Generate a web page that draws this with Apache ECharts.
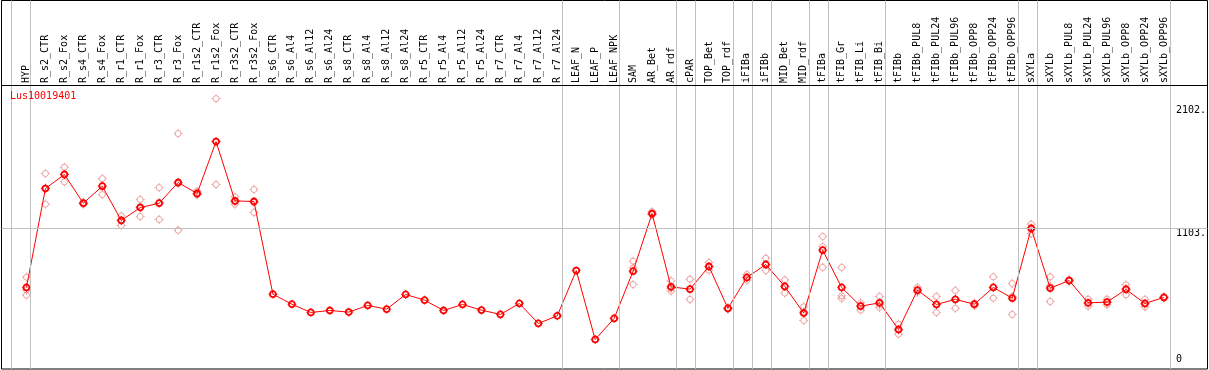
<!DOCTYPE html>
<html><head><meta charset="utf-8">
<script src="https://cdn.jsdelivr.net/npm/echarts@6/dist/echarts.min.js"></script>
<style>html,body{margin:0;padding:0;background:#fff}#c{width:1209px;height:370px}</style>
</head><body><div id="c"></div>
<script>
const categories = ['HYP','R_s2_CTR','R_s2_Fox','R_s4_CTR','R_s4_Fox','R_r1_CTR','R_r1_Fox','R_r3_CTR','R_r3_Fox','R_r1s2_CTR','R_r1s2_Fox','R_r3s2_CTR','R_r3s2_Fox','R_s6_CTR','R_s6_Al4','R_s6_Al12','R_s6_Al24','R_s8_CTR','R_s8_Al4','R_s8_Al12','R_s8_Al24','R_r5_CTR','R_r5_Al4','R_r5_Al12','R_r5_Al24','R_r7_CTR','R_r7_Al4','R_r7_Al12','R_r7_Al24','LEAF_N','LEAF_P','LEAF_NPK','SAM','AR_Bet','AR_rdf','cPAR','TOP_Bet','TOP_rdf','iFIBa','iFIBb','MID_Bet','MID_rdf','tFIBa','tFIB_Gr','tFIB_Li','tFIB_Bi','tFIBb','tFIBb_PUL8','tFIBb_PUL24','tFIBb_PUL96','tFIBb_OPP8','tFIBb_OPP24','tFIBb_OPP96','sXYLa','sXYLb','sXYLb_PUL8','sXYLb_PUL24','sXYLb_PUL96','sXYLb_OPP8','sXYLb_OPP24','sXYLb_OPP96'];
const meanValues = [625,1427,1541,1308,1446,1168,1273,1308,1476,1387,1808,1327,1322,570,489,422,438,425,479,449,568,522,438,487,441,406,495,333,395,762,203,374,757,1224,630,611,795,455,706,811,633,417,927,625,473,500,284,603,487,528,489,625,538,1103,619,681,500,506,609,495,544];
const rep1 = [708,1549,1600,1316,1508,1205,1338,1435,1873,1405,2156,1359,1419,null,null,null,null,null,null,null,null,null,null,null,null,null,null,null,null,null,null,null,838,1240,678,692,827,462,730,862,686,468,1038,787,500,552,327,625,552,600,497,711,657,1138,711,688,530,530,646,528,550];
const rep2 = [562,1300,1481,1300,1378,1127,1200,1176,1089,1375,1460,1300,1233,null,null,null,null,null,null,null,null,null,null,null,null,null,null,null,null,null,null,null,649,1215,595,528,765,450,684,762,579,357,787,536,441,463,246,587,422,455,478,538,406,1062,511,676,473,484,565,468,540];
const rep3 = [605,1432,1542,1308,1452,1172,1281,1313,1466,1381,1808,1322,1314,null,null,null,null,null,null,null,null,null,null,null,null,null,null,null,null,null,null,null,784,1217,617,613,793,453,704,809,634,426,956,557,478,485,280,597,487,529,492,626,551,1109,635,679,497,504,616,489,542];
const yTickValues = [1103, 2102];
const yTickLabels = ['1103.', '2102.'];
const yZeroValues = [0];
const yZeroLabels = ['0'];
const gridLineValue = 1103;
const groupEnds = [-1,0,28,31,34,35,37,38,39,41,42,45,52,53,60];
const titleText = 'Lus10019401';

// layout
const Y0 = 364.5, K = 0.1233, STEP = 19, X0 = 26;
const FONT = 'DejaVu Sans Mono';
const g0 = {left: X0 + 0.5 - STEP/2, top: 85, width: STEP*categories.length, height: Y0 - 85};
const g1 = {left: 1.5, top: 0.5, width: 1206, height: 368.5};
const tickSym = 'path://M4.5,0 L4.5,1.5 M4.5,7.5 L4.5,9 M0,4.5 L1.5,4.5 M7.5,4.5 L9,4.5';
const REP_COLOR = '#e88c8c', MEAN_COLOR = '#ff0000';

function repData(arr){ const o=[]; arr.forEach((v,i)=>{ if(v!=null) o.push([i,v]); }); return o; }
function meanData(){ return meanValues.map((v,i)=>[i,v]); }

const sepLines = groupEnds.map(i => ({xAxis: i + 4.5/STEP}));

function ringSeries(data, color, bw, z){
  return {type: 'scatter', xAxisIndex: 0, yAxisIndex: 0, data, symbol: 'circle', symbolSize: 6, silent: true, z,
    itemStyle: {color: 'rgba(0,0,0,0)', borderColor: color, borderWidth: bw}};
}
function tickSeries(data, color, z){
  return {type: 'scatter', xAxisIndex: 0, yAxisIndex: 0, data, symbol: tickSym, symbolSize: 9, silent: true, z,
    itemStyle: {color: 'rgba(0,0,0,0)', borderColor: color, borderWidth: 1}};
}

const repSeries = [];
[rep1, rep2, rep3].forEach(r => { repSeries.push(ringSeries(repData(r), REP_COLOR, 1, 2)); repSeries.push(tickSeries(repData(r), REP_COLOR, 2)); });

const chart = echarts.init(document.getElementById('c'), null, {renderer:'canvas'});
chart.setOption({
  animation: false,
  backgroundColor: '#fff',
  title: {text: titleText, left: 10, top: 91, padding: 0,
    textStyle: {color: '#ff0000', fontFamily: FONT, fontSize: 10, fontWeight: 'normal'}},
  grid: [
    Object.assign({containLabel: false}, g0),
    Object.assign({show: true, borderColor: '#000', borderWidth: 1, backgroundColor: 'transparent', containLabel: false}, g1)
  ],
  xAxis: [
    {type: 'category', gridIndex: 0, data: categories, position: 'top', boundaryGap: true,
      axisLine: {show: false}, axisTick: {show: false}, splitLine: {show: false},
      axisLabel: {interval: 0, rotate: 90, margin: 2, color: '#000', fontFamily: FONT, fontSize: 10}},
    {type: 'value', gridIndex: 1, show: false, min: (g1.left - X0)/STEP, max: (g1.left + g1.width - X0)/STEP, splitLine: {show: false}}
  ],
  yAxis: [
    {type: 'value', gridIndex: 0, position: 'right', min: 0, max: (Y0 - 85)/K,
      axisLine: {show: false}, axisTick: {show: false}, splitLine: {show: false},
      axisLabel: {customValues: yTickValues, margin: 2.5, verticalAlign: 'top', color: '#000', fontFamily: FONT, fontSize: 10,
        formatter: v => yTickLabels[yTickValues.indexOf(v)] ?? ''}},
    {type: 'value', gridIndex: 0, position: 'right', min: 0, max: (Y0 - 85)/K,
      axisLine: {show: false}, axisTick: {show: false}, splitLine: {show: false},
      axisLabel: {customValues: yZeroValues, margin: 2.5, verticalAlign: 'bottom', color: '#000', fontFamily: FONT, fontSize: 10,
        formatter: v => yZeroLabels[yZeroValues.indexOf(v)] ?? ''}},
    {type: 'value', gridIndex: 1, show: false, min: (Y0 - 369)/K, max: (Y0 - 0.5)/K, splitLine: {show: false}}
  ],
  series: [
    {type: 'line', xAxisIndex: 1, yAxisIndex: 2, data: [[0, -30]], showSymbol: false, symbol: 'none',
      lineStyle: {opacity: 0}, silent: true, z: 1,
      markLine: {silent: true, symbol: 'none', label: {show: false}, animation: false,
        data: [
          ...sepLines.map(d => Object.assign({lineStyle: {color: '#c0c0c0', width: 1, type: 'solid'}}, d)),
          {yAxis: gridLineValue, lineStyle: {color: '#c0c0c0', width: 1, type: 'solid'}},
          {yAxis: (Y0 - 85.5)/K, lineStyle: {color: '#000', width: 1, type: 'solid'}}
        ]}},
    ...repSeries,
    {type: 'line', xAxisIndex: 0, yAxisIndex: 0, data: meanData(), symbol: 'circle', symbolSize: 6, showAllSymbol: true,
      silent: true, z: 3,
      lineStyle: {color: MEAN_COLOR, width: 1},
      itemStyle: {color: 'rgba(0,0,0,0)', borderColor: MEAN_COLOR, borderWidth: 1.8}},
    tickSeries(meanData(), MEAN_COLOR, 4)
  ]
});
</script></body></html>
